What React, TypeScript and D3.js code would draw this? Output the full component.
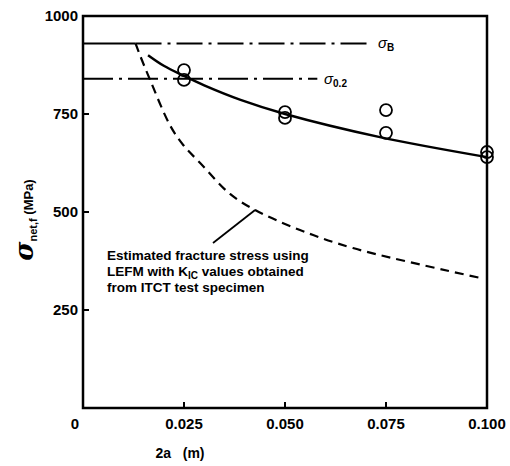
import * as React from "react";
import * as d3 from "d3";

// crack length 2a (m) and fracture stress (MPa)
const testA = [0.025, 0.025, 0.05, 0.05, 0.075, 0.075, 0.1, 0.1];
const testStress = [862, 837, 755, 740, 760, 702, 653, 640];

const fitA = [0.0161, 0.02, 0.025, 0.03, 0.039, 0.05, 0.0735, 0.1];
const fitStress = [900, 873, 847, 823, 786, 750, 691, 640];

const lefmA = [0.013, 0.0141, 0.0166, 0.0215, 0.0248, 0.029, 0.0364, 0.0426, 0.0537, 0.0668, 0.0983];
const lefmStress = [930, 900, 837, 722, 671, 625, 546, 505, 454, 408, 332];

const sigmaB = 930;
const sigma02 = 840;

const xTicks = [0, 0.025, 0.05, 0.075, 0.1];
const xTickLabels = ["0", "0.025", "0.050", "0.075", "0.100"];
const yTicks = [250, 500, 750, 1000];

const noteLines = [
  "Estimated fracture stress using",
  "LEFM with K|IC| values obtained",
  "from ITCT test specimen",
];

export default function App() {
  const width = 510;
  const height = 466;
  const left = 83, right = 487, top = 16, bottom = 408;

  const x = d3.scaleLinear().domain([0, 0.1]).range([left, right]);
  const y = d3.scaleLinear().domain([0, 1000]).range([bottom, top]);

  const line = d3
    .line<[number, number]>()
    .x((d) => x(d[0]))
    .y((d) => y(d[1]))
    .curve(d3.curveCatmullRom);

  const fit = line(fitA.map((a, i) => [a, fitStress[i]]));
  const lefm = line(lefmA.map((a, i) => [a, lefmStress[i]]));

  const font = "Arial, 'Liberation Sans', sans-serif";

  return (
    <svg width={width} height={height} style={{ position: "absolute", left: 0, top: 0 }}>
      <rect width={width} height={height} fill="#fff" />
      {/* plateau at sigma_B */}
      <line x1={x(0)} x2={x(lefmA[0])} y1={y(sigmaB)} y2={y(sigmaB)} stroke="#000" strokeWidth={2} />
      <line x1={x(lefmA[0])} x2={x(0.0705)} y1={y(sigmaB)} y2={y(sigmaB)} stroke="#000" strokeWidth={2} strokeDasharray="26,6,3,6" />
      <line x1={x(0)} x2={x(0.058)} y1={y(sigma02)} y2={y(sigma02)} stroke="#000" strokeWidth={2} strokeDasharray="30,6,3,6" />

      <path d={lefm ?? ""} fill="none" stroke="#000" strokeWidth={2.2} strokeDasharray="9,6" />
      <path d={fit ?? ""} fill="none" stroke="#000" strokeWidth={2.5} />

      {/* leader to dashed curve */}
      <line x1={x(0.0426)} y1={y(505)} x2={213} y2={243} stroke="#000" strokeWidth={1.8} />

      {testA.map((a, i) => (
        <circle key={i} cx={x(a)} cy={y(testStress[i])} r={6} fill="none" stroke="#000" strokeWidth={1.8} />
      ))}

      {/* frame */}
      <rect x={left} y={top} width={right - left} height={bottom - top} fill="none" stroke="#000" strokeWidth={2.5} />
      {xTicks.slice(1, 4).map((t) => (
        <line key={t} x1={x(t)} x2={x(t)} y1={bottom} y2={bottom - 6} stroke="#000" strokeWidth={2} />
      ))}
      {yTicks.slice(0, 3).map((t) => (
        <line key={t} x1={left} x2={left + 6} y1={y(t)} y2={y(t)} stroke="#000" strokeWidth={2} />
      ))}

      <g fontFamily={font} fontWeight="bold" fontSize={15} fill="#000">
        {xTicks.map((t, i) => (
          <text key={t} x={i === 0 ? x(t) - 8 : x(t)} y={429} textAnchor="middle">
            {xTickLabels[i]}
          </text>
        ))}
        {yTicks.map((t) => (
          <text key={t} x={left - 5} y={y(t) + 5} textAnchor="end">
            {t}
          </text>
        ))}
        <text x={180} y={458} textAnchor="middle" fontSize={14} style={{ whiteSpace: "pre" }}>2a   (m)</text>
      </g>

      <g transform="translate(33,220) rotate(-90)" fontFamily={font} fill="#000">
        <text textAnchor="middle">
          <tspan fontSize={26} fontStyle="italic" fontWeight="bold" fontFamily="'DejaVu Serif', serif">σ</tspan>
          <tspan fontSize={11} fontWeight="bold" dy={4}>net,f</tspan>
          <tspan fontSize={13} fontWeight="bold" dy={-4}> (MPa)</tspan>
        </text>
      </g>

      <g fontFamily={font} fill="#000">
        <text x={378} y={48}>
          <tspan fontSize={15} fontStyle="italic">σ</tspan>
          <tspan fontSize={10} fontWeight="bold" dy={3}>B</tspan>
        </text>
        <text x={324} y={84}>
          <tspan fontSize={15} fontStyle="italic">σ</tspan>
          <tspan fontSize={10} fontWeight="bold" dy={3}>0.2</tspan>
        </text>
      </g>

      <g fontFamily={font} fontWeight="bold" fontSize={13.5} fill="#000">
        {noteLines.map((s, i) => {
          const parts = s.split("|");
          return (
            <text key={i} x={107} y={260 + i * 16}>
              {parts.length === 1 ? (
                s
              ) : (
                <>
                  {parts[0]}
                  <tspan fontSize={10} dy={3}>{parts[1]}</tspan>
                  <tspan dy={-3}>{parts[2]}</tspan>
                </>
              )}
            </text>
          );
        })}
      </g>
    </svg>
  );
}
